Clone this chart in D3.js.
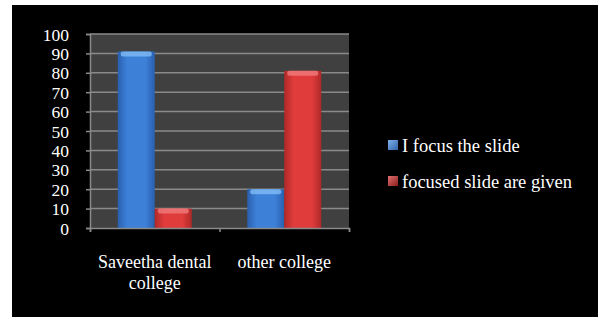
<!DOCTYPE html>
<html><head><meta charset="utf-8">
<script src="https://cdn.jsdelivr.net/npm/d3@7"></script>
<style>html,body{margin:0;padding:0;background:#fff;}svg{display:block;}</style>
</head><body>
<svg id="c" width="598" height="317"></svg>
<script>
const categories = [["Saveetha dental", "college"], ["other college"]];
const seriesNames = ["I focus the slide", "focused slide are given"];
const seriesA = [91, 20];
const seriesB = [10, 81];
const yTicks = [0, 10, 20, 30, 40, 50, 60, 70, 80, 90, 100];

(function () {
const FONT = "Liberation Serif";
const svg = d3.select("#c");
const defs = svg.append("defs");
function grad(id, dark, mid) {
  const g = defs.append("linearGradient").attr("id", id).attr("x1", 0).attr("x2", 1).attr("y1", 0).attr("y2", 0);
  g.append("stop").attr("offset", "0%").attr("stop-color", dark);
  g.append("stop").attr("offset", "25%").attr("stop-color", mid);
  g.append("stop").attr("offset", "75%").attr("stop-color", mid);
  g.append("stop").attr("offset", "100%").attr("stop-color", dark);
}
grad("gA", "#2a5fae", "#3c80d8");
grad("gB", "#b02828", "#e03c3c");
const lgA = defs.append("linearGradient").attr("id", "lA").attr("x1", 0).attr("x2", 1).attr("y1", 0).attr("y2", 1);
lgA.append("stop").attr("offset", "0%").attr("stop-color", "#7fb2ea");
lgA.append("stop").attr("offset", "100%").attr("stop-color", "#2f64aa");
const lgB = defs.append("linearGradient").attr("id", "lB").attr("x1", 0).attr("x2", 1).attr("y1", 0).attr("y2", 1);
lgB.append("stop").attr("offset", "0%").attr("stop-color", "#e07070");
lgB.append("stop").attr("offset", "100%").attr("stop-color", "#8a1c1c");

svg.append("rect").attr("x", 12).attr("y", 5).attr("width", 586).attr("height", 312).attr("fill", "#000");

const pl = 90, pr = 349, pt = 34, pb = 228;
const y = d3.scaleLinear().domain([0, 100]).range([pb, pt]);
const x0 = d3.scaleBand().domain(d3.range(categories.length)).range([pl, pr]).paddingInner(0).paddingOuter(0);
const x1 = d3.scaleBand().domain([0, 1]).range([0, x0.bandwidth()]).paddingOuter(0.75).paddingInner(0);

svg.append("rect").attr("x", pl).attr("y", pt).attr("width", pr - pl).attr("height", pb - pt).attr("fill", "#404040");

svg.append("g").selectAll("line").data(yTicks.filter(d => d > 0)).join("line")
  .attr("x1", pl).attr("x2", pr).attr("y1", d => y(d)).attr("y2", d => y(d))
  .attr("stroke", "#8a8a8a").attr("stroke-width", 1.5);

const yAxis = d3.axisLeft(y).tickValues(yTicks).tickSize(4).tickPadding(17).tickFormat(d3.format("d"));
const ya = svg.append("g").attr("transform", `translate(${pl},0)`).call(yAxis)
  .attr("font-family", FONT).attr("font-size", 17.5);
ya.select(".domain").attr("stroke", "#8a8a8a").attr("stroke-width", 1.5);
ya.selectAll(".tick line").attr("stroke", "#8a8a8a").attr("stroke-width", 1.5);
ya.selectAll("text").attr("fill", "#fff").attr("dy", "0.35em");

const data = [seriesA, seriesB];
data.forEach((vals, si) => {
  svg.append("g").selectAll("rect").data(vals).join("rect")
    .attr("x", (d, i) => x0(i) + x1(si))
    .attr("y", d => y(d))
    .attr("width", x1.bandwidth())
    .attr("height", d => pb - y(d))
    .attr("fill", si === 0 ? "url(#gA)" : "url(#gB)");
  svg.append("g").selectAll("rect").data(vals).join("rect")
    .attr("x", (d, i) => x0(i) + x1(si) + 3)
    .attr("y", d => y(d))
    .attr("width", x1.bandwidth() - 6)
    .attr("height", 5)
    .attr("rx", 2)
    .attr("fill", si === 0 ? "#7fbcf5" : "#f07a7a").attr("opacity", 0.8);
});

const xs = d3.scaleLinear().domain([0, categories.length]).range([pl, pr]);
const xa = svg.append("g").attr("transform", `translate(0,${pb})`)
  .call(d3.axisBottom(xs).tickValues(d3.range(categories.length + 1)).tickSize(4).tickFormat(""));
xa.select(".domain").attr("stroke", "#8a8a8a").attr("stroke-width", 1.5);
xa.selectAll(".tick line").attr("stroke", "#8a8a8a").attr("stroke-width", 1.5);

categories.forEach((lines, i) => {
  const cx = x0(i) + x0.bandwidth() / 2;
  const t = svg.append("text").attr("x", cx).attr("y", 268)
    .attr("text-anchor", "middle").attr("fill", "#fff")
    .attr("font-family", FONT).attr("font-size", 18);
  lines.forEach((l, j) => t.append("tspan").attr("x", cx).attr("dy", j === 0 ? 0 : 20.5).text(l));
});

const lg = svg.append("g");
seriesNames.forEach((n, i) => {
  const ly = 152 + i * 36;
  lg.append("rect").attr("x", 388).attr("y", ly - 12).attr("width", 10).attr("height", 10)
    .attr("fill", i === 0 ? "url(#lA)" : "url(#lB)");
  lg.append("text").attr("x", 402).attr("y", ly).attr("fill", "#fff")
    .attr("font-family", FONT).attr("font-size", 18.5).text(n);
});
})();
</script>
</body></html>
